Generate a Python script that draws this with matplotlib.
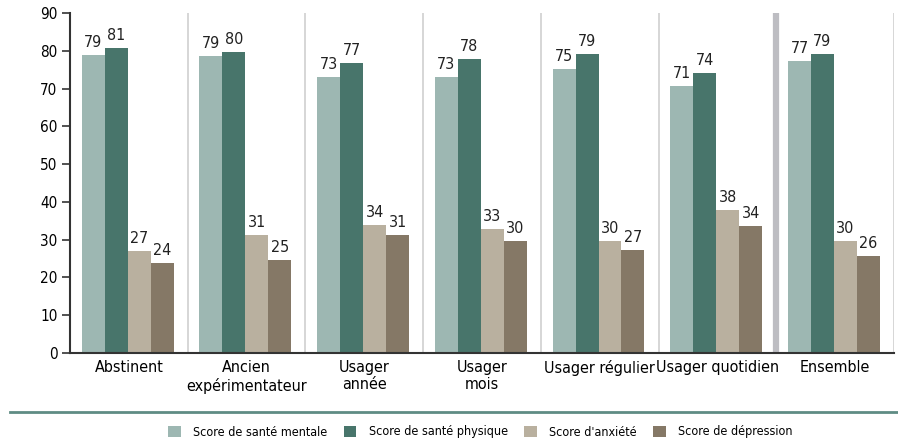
import numpy as np
import matplotlib.pyplot as plt
from matplotlib.lines import Line2D

# Data
categories = ["Abstinent", "Ancien\nexpérimentateur", "Usager\nannée", "Usager\nmois",
              "Usager régulier", "Usager quotidien", "Ensemble"]
series_names = ["Score de santé mentale", "Score de santé physique",
                "Score d'anxiété", "Score de dépression"]
mentale = [78.8, 78.6, 73.0, 73.0, 75.1, 70.6, 77.2]
physique = [80.7, 79.6, 76.7, 77.8, 79.1, 74.1, 79.1]
anxiete = [27.0, 31.2, 33.9, 32.8, 29.6, 37.8, 29.6]
depression = [23.8, 24.6, 31.2, 29.6, 27.2, 33.6, 25.7]
colors = ["#9db7b2", "#48756b", "#b9b09f", "#857866"]

plt.rcParams['font.family'] = ['DejaVu Sans']
plt.rcParams['font.stretch'] = 'condensed'

fig = plt.figure(figsize=(8.98, 4.43), dpi=100)
ax = fig.add_axes([70 / 898, 1 - 353 / 443, 824 / 898, 340 / 443])

n = len(categories)
x = np.arange(n) + 0.5
w = 0.195
all_series = [mentale, physique, anxiete, depression]
for i, (vals, c, name) in enumerate(zip(all_series, colors, series_names)):
    pos = x + (i - 1.5) * w - 0.01
    ax.bar(pos, vals, width=w, color=c, label=name, zorder=2)
    for xb, v in zip(pos, vals):
        ax.text(xb, v + 1.3, f"{round(v)}", ha='center', va='bottom',
                fontsize=11.5, color='#222222')

# group separators
for k in range(1, n + 1):
    if k == n - 1:
        ax.axvline(k, color='#bdbdc2', linewidth=4.5, zorder=1)
    else:
        ax.axvline(k, color='#d0d0d0', linewidth=1.2, zorder=1)

ax.set_xlim(0, n)
ax.set_ylim(0, 90)
ax.set_yticks(np.arange(0, 91, 10))
ax.set_xticks(x)
ax.set_xticklabels(categories, fontsize=11.5, va='top', linespacing=1.2)
ax.tick_params(axis='x', length=0, pad=5)
ax.tick_params(axis='y', length=6, width=1.2, color='#333333', labelsize=11, pad=3)
for s in ['top', 'right']:
    ax.spines[s].set_visible(False)
ax.spines['left'].set_color('#333333')
ax.spines['left'].set_linewidth(1.5)
ax.spines['bottom'].set_color('#333333')
ax.spines['bottom'].set_linewidth(1.5)

# teal rule above legend
fig.add_artist(Line2D([10 / 898, 1], [1 - 412 / 443] * 2, color='#5f8c84', linewidth=2))

handles, labels = ax.get_legend_handles_labels()
fig.legend(handles, labels, loc='center', bbox_to_anchor=(0.535, 1 - 432 / 443), ncol=4,
           frameon=False, fontsize=9, handlelength=1.0, handleheight=1.0,
           columnspacing=1.3, handletextpad=1.0)

fig.savefig("out.png", dpi=100)
